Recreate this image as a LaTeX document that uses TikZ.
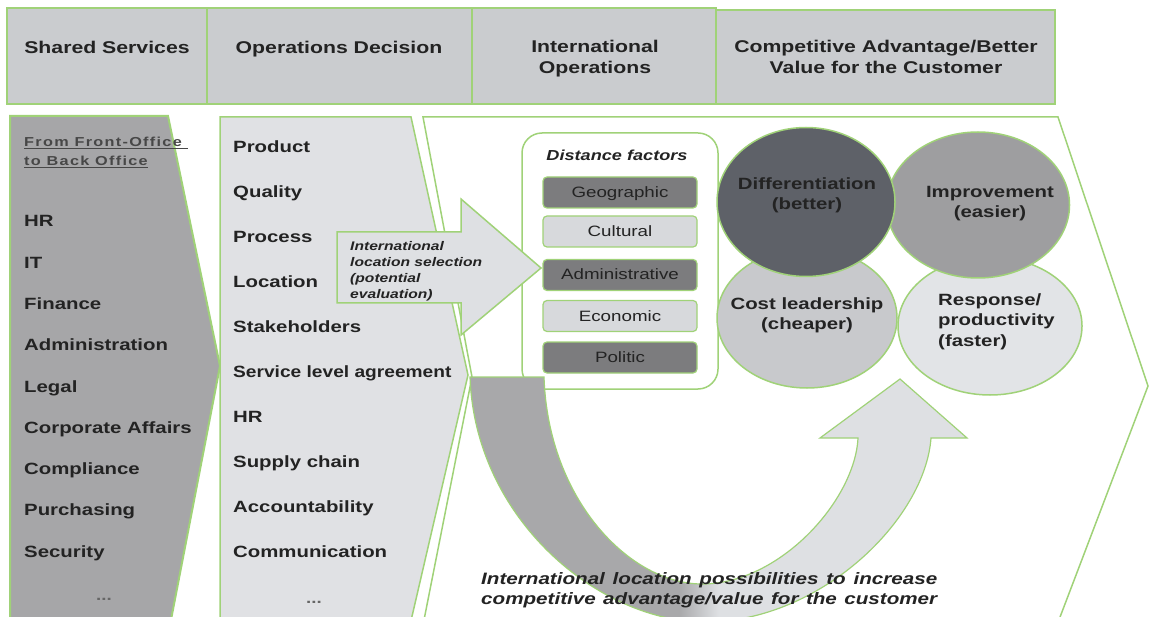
\documentclass[tikz,border=0pt]{standalone}
\usepackage{fontspec}
\usepackage{graphicx}
\setmainfont{Liberation Sans}[FakeStretch=1.25]
\newfontfamily\spacedfont{Liberation Sans}[FakeStretch=1.25,LetterSpace=10]
\usetikzlibrary{shapes.geometric}

\definecolor{grn}{RGB}{160,210,120}
\definecolor{txt}{RGB}{35,35,35}
\definecolor{hdrfill}{RGB}{202,204,207}
\definecolor{panelone}{RGB}{166,166,168}
\definecolor{paneltwo}{RGB}{224,225,228}
\definecolor{arrowfill}{RGB}{222,224,227}
\definecolor{fdark}{RGB}{124,124,126}
\definecolor{flight}{RGB}{215,217,220}
\definecolor{cdiff}{RGB}{94,97,104}
\definecolor{cimp}{RGB}{158,158,160}
\definecolor{ccost}{RGB}{200,201,204}
\definecolor{cresp}{RGB}{226,228,231}
\definecolor{udark}{RGB}{168,168,170}
\definecolor{ulight}{RGB}{222,224,227}

% dark on the left limb of the U-turn, light on the right limb
\pgfdeclarehorizontalshading{uturn}{100bp}{color(0bp)=(udark); color(46bp)=(udark); color(50bp)=(ulight); color(100bp)=(ulight)}

\tikzset{
  hdrbox/.style={draw=grn, line width=2pt, fill=hdrfill, inner sep=0pt, outer sep=0pt},
  hdrtext/.style={font=\fontsize{17}{21}\selectfont\bfseries, text=txt, align=center, inner sep=0pt, anchor=base},
  listtext/.style={font=\fontsize{16.3}{19}\selectfont\bfseries, text=txt, anchor=base west, inner sep=0pt},
  dotstext/.style={font=\fontsize{15}{16}\selectfont\bfseries, text=black!60, anchor=base, inner sep=0pt},
  factorbox/.style={draw=grn, line width=1.2pt, rounded corners=4pt, minimum width=154pt, minimum height=31pt, inner sep=0pt},
  factortext/.style={font=\fontsize{15}{18}\selectfont, text=txt, anchor=base, inner sep=0pt},
  bubble/.style={ellipse, draw=grn, line width=1.5pt, inner sep=0pt},
  bubbletext/.style={font=\fontsize{16.3}{20.5}\selectfont\bfseries, text=txt, inner sep=0pt},
  itext/.style={font=\fontsize{12.5}{16.3}\selectfont\bfseries\itshape, text=txt, align=left, inner sep=0pt, anchor=base west},
  posstext/.style={anchor=base west, inner sep=0pt, text=txt, font=\fontsize{16.5}{20}\selectfont\bfseries\itshape},
}

\begin{document}
\begin{tikzpicture}[x=1pt,y=-1pt]
\useasboundingbox (0,0) rectangle (1150,617);
\clip (0,0) rectangle (1150,617);

% ---- header row ----
\node[hdrbox, minimum width=200pt, minimum height=96pt] (hShared) at (107,56) {};
\node[hdrbox, minimum width=265pt, minimum height=96pt] (hOps) at (339.5,56) {};
\node[hdrbox, minimum width=244pt, minimum height=96pt] (hIntl) at (594,56) {};
\node[hdrbox, minimum width=339pt, minimum height=94pt] (hComp) at (885.5,57) {};
% (base anchor of a multi-line node = baseline of its last line)
\node[hdrtext] (tShared) at (107,54) {Shared Services};
\node[hdrtext] (tOps) at (339,54) {Operations Decision};
\node[hdrtext] (tIntl) at (595,74) {International\\Operations};
\node[hdrtext] (tComp) at (886,74) {Competitive Advantage/Better\\Value for the Customer};

% ---- three chevron panels ----
\draw[draw=grn, line width=2pt, fill=panelone]
  (10,116) -- (168,116) -- (220,366) -- (170,625) -- (10,625) -- cycle;
\draw[draw=grn, line width=1.5pt, fill=paneltwo]
  (220,117) -- (411,117) -- (468,375) -- (410,625) -- (220,625) -- cycle;
\draw[draw=grn, line width=1.5pt, fill=white]
  (423,117) -- (1058,117) -- (1148,386) -- (1057,625) -- (423,625) -- (472,377) -- cycle;

% ---- shared services list ----
\node[anchor=base west, inner sep=0pt, text=black!72,
      font=\spacedfont\fontsize{13}{19}\selectfont\bfseries, align=left]
  (fromfront) at (24,166) {\underline{From Front-Office\ }\\\underline{to Back Office}};
\foreach \t [count=\i from 0] in {HR, IT, Finance, Administration, Legal,
    Corporate Affairs, Compliance, Purchasing, Security}
  \node[listtext] (sl\i) at (24,227+41.25*\i) {\t};
\node[dotstext] (sldots) at (104,600) {...};

% ---- operations decision list ----
\foreach \t [count=\i from 0] in {Product, Quality, Process, Location, Stakeholders,
    {\scalebox{0.94}[1]{Service level agreement}}, HR, Supply chain, Accountability, Communication}
  \node[listtext] (od\i) at (233,153+44.9*\i) {\t};
\node[dotstext] (oddots) at (314,603) {...};

% ---- distance factors ----
\node[draw=grn, line width=1.5pt, rounded corners=20pt, fill=white,
      minimum width=196pt, minimum height=256pt, inner sep=0pt] (dbox) at (620,261) {};
\node[anchor=base, inner sep=0pt, text=txt,
      font=\fontsize{14.5}{17}\selectfont\bfseries\itshape] (dtitle) at (617,161) {Distance factors};
\node[factorbox, fill=fdark]  (fGeo)  at (620,192.5) {};
\node[factorbox, fill=flight] (fCul)  at (620,231.5) {};
\node[factorbox, fill=fdark]  (fAdm)  at (620,275)   {};
\node[factorbox, fill=flight] (fEco)  at (620,316)   {};
\node[factorbox, fill=fdark]  (fPol)  at (620,357.5) {};
\node[factortext] (tGeo) at (620,197.5) {Geographic};
\node[factortext] (tCul) at (620,236.5) {Cultural};
\node[factortext] (tAdm) at (620,280)   {Administrative};
\node[factortext] (tEco) at (620,321)   {Economic};
\node[factortext] (tPol) at (620,362.5) {Politic};

% ---- location selection arrow ----
\draw[draw=grn, line width=1.5pt, fill=arrowfill]
  (337,232) -- (461,232) -- (461,199) -- (541,268) -- (461,335) -- (461,303) -- (337,303) -- cycle;
\node[itext] (selection) at (350,299)
  {International\\location selection\\(potential\\evaluation)};

% ---- competitive advantage bubbles ----
\node[bubble, fill=cresp, minimum width=184pt, minimum height=138pt] (bResp) at (990,326) {};
\node[bubble, fill=ccost, minimum width=180pt, minimum height=140pt] (bCost) at (807,318) {};
\node[bubble, fill=cimp,  minimum width=183pt, minimum height=146pt] (bImp)  at (978,205) {};
\node[bubble, fill=cdiff, minimum width=178pt, minimum height=149pt] (bDiff) at (806,202) {};
\node[bubbletext, align=center, anchor=base] (tDiff) at (807,210) {Differentiation\\(better)};
\node[bubbletext, align=center, anchor=base] (tImp)  at (990,218) {Improvement\\(easier)};
\node[bubbletext, align=center, anchor=base] (tCost) at (807,330) {Cost leadership\\(cheaper)};
\node[bubbletext, align=left, anchor=base west] (tResp) at (938,346) {Response/\\productivity\\(faster)};

% ---- U-turn arrow ----
\shadedraw[shading=uturn, draw=grn, line width=1.2pt]
  (470,377) -- (544,377)
  .. controls (548,500) and (630,584) .. (702,584)
  .. controls (780,584) and (855,500) .. (858,438)
  -- (820,438) -- (900,379) -- (967,438) -- (931,438)
  .. controls (925,520) and (820,622) .. (705,622)
  .. controls (600,622) and (475,520) .. (470,377) -- cycle;

\node[posstext] (poss1) at (481,584)
  {\makebox[456pt][s]{International location possibilities to increase}};
\node[posstext] (poss2) at (481,604)
  {\makebox[456pt][s]{competitive advantage/value for the customer}};
\end{tikzpicture}
\end{document}
